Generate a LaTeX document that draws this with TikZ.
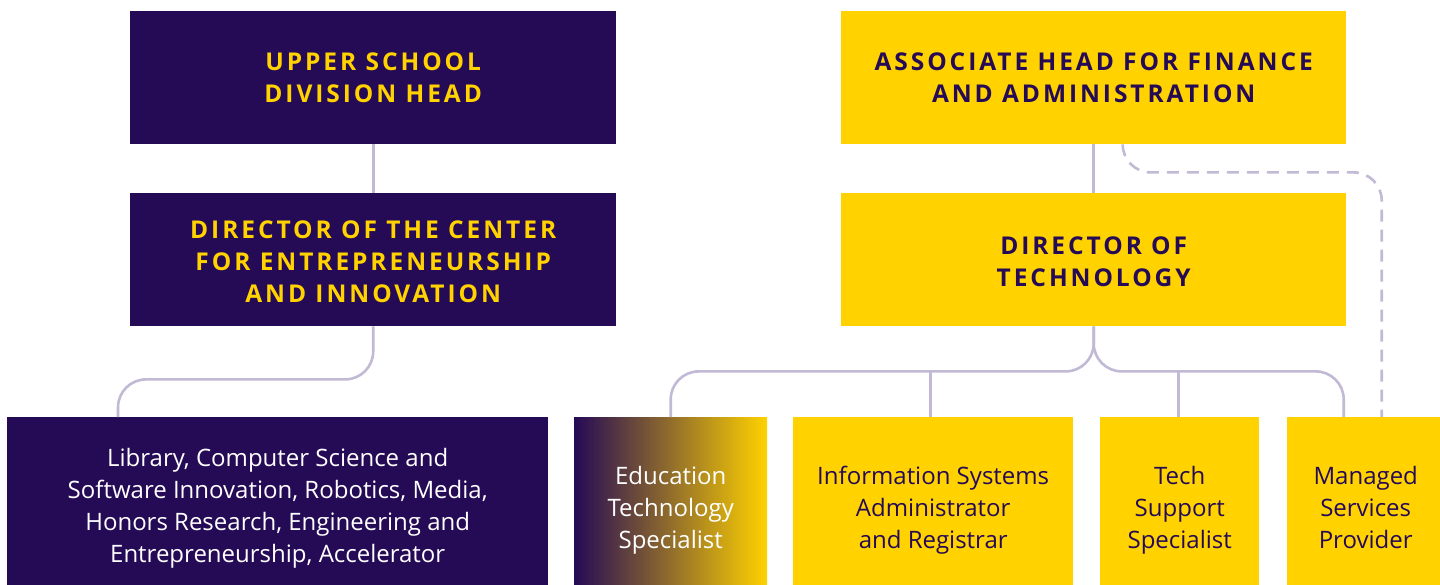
\documentclass[tikz,border=0pt]{standalone}
\usepackage{fontspec}
\setmainfont{Open Sans}
\newfontfamily\headfont{Open Sans}[LetterSpace=12]
\definecolor{dpurple}{HTML}{250A56}
\definecolor{gold}{HTML}{FFD200}
\definecolor{lav}{HTML}{C2B9D5}
\begin{document}
\begin{tikzpicture}[x=1pt,y=-1pt,
  box/.style={anchor=north west, inner sep=0pt},
  lbl/.style={align=center, inner sep=0pt},
  head/.style={lbl, font=\headfont\bfseries\fontsize{24.5}{32}\selectfont},
  body/.style={lbl, font=\fontsize{24}{32}\selectfont},
  purplebox/.style={box, fill=dpurple},
  goldbox/.style={box, fill=gold},
  conn/.style={draw=lav, line width=2.6pt, rounded corners=28pt},
  dashconn/.style={conn, dash pattern=on 12pt off 8pt}]
\useasboundingbox (0,0) rectangle (1440,585);
% top row
\node[purplebox, minimum width=486pt, minimum height=133pt,
  label={[head, text=gold]center:{UPPER SCHOOL\\DIVISION HEAD}}] (A) at (130,11) {};
\node[goldbox, minimum width=505pt, minimum height=133pt,
  label={[head, text=dpurple]center:{ASSOCIATE HEAD FOR FINANCE\\AND ADMINISTRATION}}] (D) at (841,11) {};
% second row
\node[purplebox, minimum width=486pt, minimum height=133pt,
  label={[head, text=gold, yshift=-2pt]center:{DIRECTOR OF THE CENTER\\FOR ENTREPRENEURSHIP\\AND INNOVATION}}] (B) at (130,193) {};
\node[goldbox, minimum width=505pt, minimum height=133pt,
  label={[head, text=dpurple, yshift=-2pt]center:{DIRECTOR OF\\TECHNOLOGY}}] (E) at (841,193) {};
% bottom row
\node[purplebox, minimum width=541pt, minimum height=168pt,
  label={[body, text=white, yshift=-7pt]center:{Library, Computer Science and\\Software Innovation, Robotics, Media,\\Honors Research, Engineering and\\Entrepreneurship, Accelerator}}] (C) at (7,417) {};
\node[box, left color=dpurple, right color=gold, minimum width=193pt, minimum height=168pt,
  label={[body, text=white, yshift=-9pt]center:{Education\\Technology\\Specialist}}] (F) at (574,417) {};
\node[goldbox, minimum width=280pt, minimum height=168pt,
  label={[body, text=dpurple, yshift=-9pt]center:{Information Systems\\Administrator\\and Registrar}}] (G) at (793,417) {};
\node[goldbox, minimum width=159pt, minimum height=168pt,
  label={[body, text=dpurple, yshift=-9pt]center:{Tech\\Support\\Specialist}}] (H) at (1100,417) {};
\node[goldbox, minimum width=153pt, minimum height=168pt,
  label={[body, text=dpurple, yshift=-6pt, xshift=2pt]center:{Managed\\Services\\Provider}}] (I) at (1287,417) {};
% connectors
\draw[conn] (A.south) -- (B.north);
\draw[conn] (D.south) -- (E.north);
\draw[conn] (B.south) -- ++(0,53) -| ([xshift=111pt]C.north west);
\draw[conn] (E.south) -- ++(0,45) -| (F.north);
\draw[conn] (E.south) -- ++(0,45) -| ([xshift=-20pt]I.north);
\draw[conn] ([xshift=-3pt]G.north) -- ++(0,-46);
\draw[conn] ([xshift=-1pt]H.north) -- ++(0,-46);
\draw[dashconn] ([xshift=29pt]D.south) -- ++(0,28) -| ([xshift=18pt]I.north);
\end{tikzpicture}
\end{document}
